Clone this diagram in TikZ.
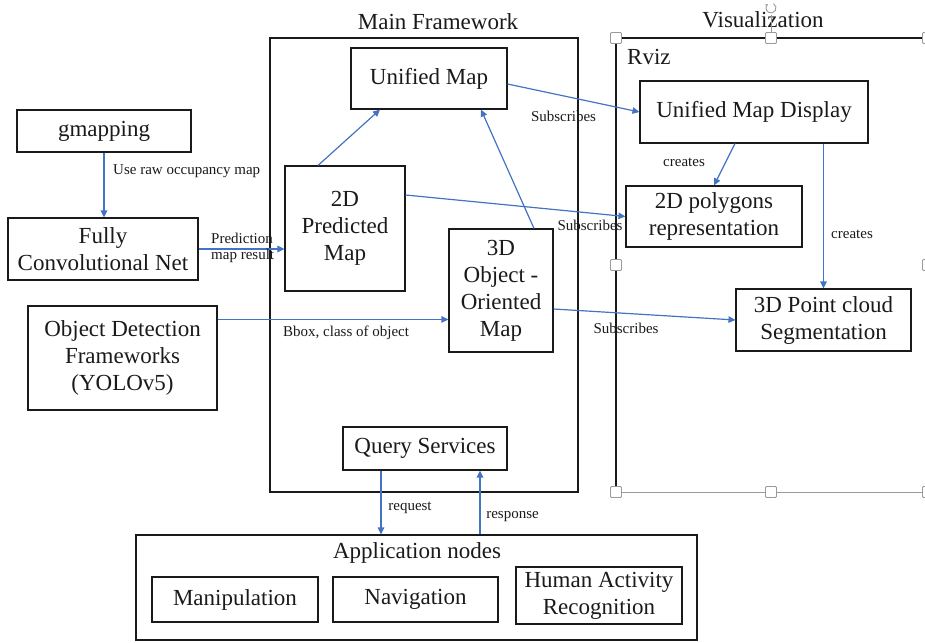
\documentclass[tikz,border=0pt]{standalone}
\usepackage{fontspec}
\setmainfont{LiberationSerif}[Extension=.ttf, UprightFont=*-Regular, BoldFont=*-Bold, ItalicFont=*-Italic, BoldItalicFont=*-BoldItalic]
\usetikzlibrary{arrows.meta,calc}
\definecolor{linkblue}{HTML}{4472C4}
\definecolor{handlegray}{HTML}{9A9A9A}
\definecolor{ink}{HTML}{1A1A1A}

\begin{document}
\begin{tikzpicture}[x=1pt,y=-1pt,
  box/.style={draw=ink, line width=1.1pt, inner sep=0pt, align=center, text=ink,
              font=\fontsize{23}{27}\selectfont},
  frame/.style={draw=ink, line width=1.3pt},
  link/.style={draw=linkblue, line width=1.2pt, -{Triangle[length=7pt,width=6.5pt]}},
  lbl/.style={font=\fontsize{15}{16}\selectfont, inner sep=0pt, text=ink, align=left},
  title/.style={font=\fontsize{23}{27}\selectfont, inner sep=0pt, text=ink},
  handle/.style={draw=handlegray, fill=white, line width=0.8pt, minimum size=11pt,
                 inner sep=0pt, rounded corners=1pt}
]
\useasboundingbox (0,0) rectangle (925,642);

% ---- group frames ----
\draw[frame] (270,38) rectangle (578,492);
\node[title] (mainT) at (438,22) {Main Framework};

\draw[draw=handlegray, line width=1pt] (616,492) -- (928,492);
\draw[draw=ink, line width=2.2pt] (616,492) -- (616,38) -- (928,38) -- (928,492);
\node[title] (visT) at (763,20) {Visualization};
\node[title, anchor=west] (rviz) at (627,57) {Rviz};

% ---- inputs ----
\node[box, minimum width=174pt, minimum height=42pt]  (gm)   at (104,131)   {gmapping};
\node[box, minimum width=190pt, minimum height=62pt]  (fcn)  at (103,249)   {Fully\\Convolutional Net};
\node[box, minimum width=189pt, minimum height=104pt] (odf)  at (122.5,358) {Object Detection\\Frameworks\\(YOLOv5)};

% ---- main framework ----
\node[box, minimum width=156pt, minimum height=61pt]  (um)   at (429,78.5)  {Unified Map};
\node[box, minimum width=120pt, minimum height=125pt] (pm)   at (345,228.5) {2D\\Predicted\\Map};
\node[box, minimum width=104pt, minimum height=123pt] (oom)  at (501,290.5) {3D\\Object -\\Oriented\\Map};
\node[box, minimum width=164pt, minimum height=43pt]  (qs)   at (425,448.5) {Query Services};

% ---- visualization ----
\node[box, minimum width=228pt, minimum height=62pt]  (umd)  at (754,112)   {Unified Map Display};
\node[box, minimum width=176pt, minimum height=61pt]  (poly) at (714,216.5) {2D polygons\\representation};
\node[box, minimum width=175pt, minimum height=62pt]  (pc)   at (823.5,320) {3D Point cloud\\Segmentation};

% ---- application nodes ----
\node[box, minimum width=561pt, minimum height=105pt] (app)  at (416.5,587.5) {};
\node[title] (appT) at (417,553) {Application nodes};
\node[box, minimum width=166pt, minimum height=45pt]  (man)  at (235,599.5)   {Manipulation};
\node[box, minimum width=165pt, minimum height=45pt]  (nav)  at (415.5,599.5) {Navigation};
\node[box, minimum width=166pt, minimum height=57pt]  (har)  at (599,595.5)   {Human Activity\\Recognition};

% ---- connectors ----
\draw[link] (gm.south) -- (gm.south |- fcn.north);
\draw[link] (fcn.east) -- (fcn.east -| pm.west);
\coordinate (odfOut) at ($(odf.north east)+(0,14)$);
\draw[link] (odfOut) -- (odfOut -| oom.west);
\draw[link] ($(pm.north)+(-27,0)$) -- ($(um.south)+(-49,0)$);
\draw[link] ($(oom.north)+(33,0)$) -- ($(um.south)+(52,0)$);
\draw[link] ($(um.east)+(0,5.5)$) -- (umd.west);
\draw[link] ($(pm.east)+(0,-33.5)$) -- (poly.west);
\draw[link] ($(oom.east)+(0,18.5)$) -- (pc.west);
\draw[link] ($(umd.south)+(-19,0)$) -- (poly.north);
\draw[link] (pc.north |- umd.south) -- (pc.north);
\coordinate (reqTop) at ($(qs.south)+(-44,0)$);
\coordinate (resTop) at ($(qs.south)+(55,0)$);
\draw[link] (reqTop) -- (reqTop |- app.north);
\draw[link] (resTop |- app.north) -- (resTop);

% ---- connector labels ----
\node[lbl, anchor=west] (l1) at (113,171) {Use raw occupancy map};
\node[lbl, anchor=west] (l2) at (211,248) {Prediction\\map result};
\node[lbl, anchor=west] (l3) at (283,333) {Bbox, class of object};
\node[lbl] (l4) at (563.5,116) {Subscribes};
\node[lbl] (l5) at (590,225)   {Subscribes};
\node[lbl] (l6) at (626,328)   {Subscribes};
\node[lbl] (l7) at (684,162)   {creates};
\node[lbl] (l8) at (852,234)   {creates};
\node[lbl] (l9) at (410,508)   {request};
\node[lbl] (l10) at (512.5,517) {response};

% ---- selection handles on the visualization frame ----
\draw[handlegray, line width=0.8pt] (771,15) -- (771,33);
\draw[handlegray, line width=0.9pt, -{Stealth[length=2.5pt,width=3pt]}]
  ([shift={(-60:5)}]771,8) arc[start angle=-60, end angle=230, radius=5];
\foreach \hx/\hy in {616/38, 771/38, 928/38, 616/265, 928/265, 616/492, 771/492, 928/492}
  \node[handle] at (\hx,\hy) {};
\end{tikzpicture}
\end{document}
